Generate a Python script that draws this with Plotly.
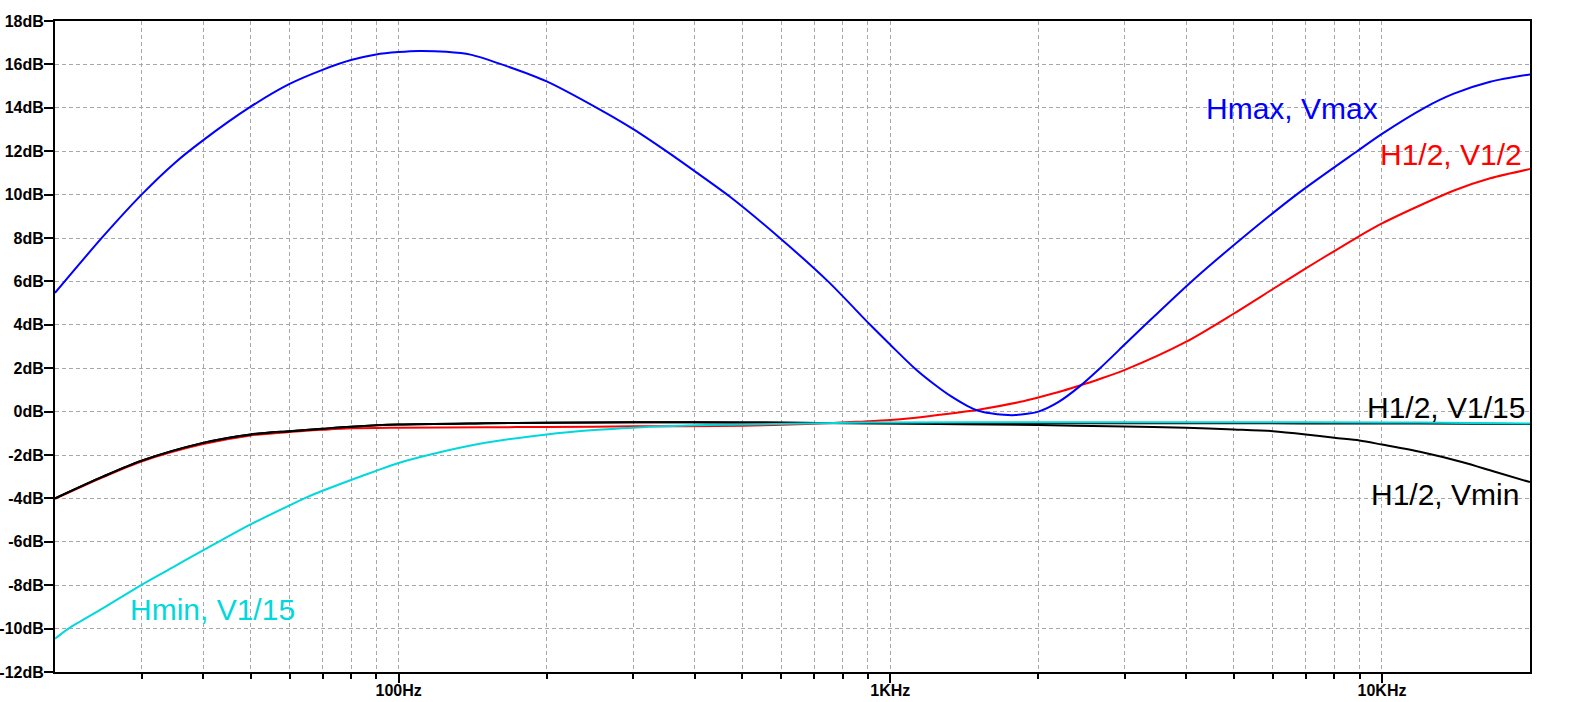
import plotly.graph_objects as go

# ---------------- data ----------------
blue_f = [20, 25, 30, 35, 40, 50, 60, 70, 80, 90, 100, 110, 125, 140, 162, 200, 253,
          300, 352, 400, 472, 596, 747, 910, 1000, 1120, 1230, 1330, 1430, 1510, 1600,
          1700, 1800, 1900, 2000, 2200, 2420, 2670, 3000, 3300, 4100, 5200, 6700, 8900,
          10000, 12200, 14000, 16600, 20000]
blue_db = [5.47, 8.05, 10.0, 11.45, 12.5, 14.05, 15.1, 15.75, 16.2, 16.46, 16.57,
           16.62, 16.58, 16.45, 16.0, 15.22, 14.0, 13.02, 11.97, 11.08, 9.9, 8.0, 6.0, 4.0,
           3.08, 2.0, 1.25, 0.7, 0.28, 0.04, -0.08, -0.15, -0.16, -0.1, 0.0, 0.45, 1.14,
           2.0, 3.1, 4.0, 6.0, 8.0, 10.0, 12.0, 12.8, 14.0, 14.65, 15.2, 15.54]

red_f = [20, 25, 30, 40, 50, 60, 70, 80, 100, 150, 200, 300, 500, 700, 850, 1000, 1100,
         1260, 1520, 1840, 2000, 2200, 2420, 2650, 3000, 4000, 5000, 6000, 7000, 8000,
         9000, 10000, 12000, 14100, 16600, 20000]
red_db = [-4.02, -3.03, -2.3, -1.5, -1.1, -0.94, -0.84, -0.77, -0.74, -0.72, -0.71, -0.68,
          -0.65, -0.56, -0.47, -0.39, -0.31, -0.15, 0.1, 0.45, 0.65, 0.9, 1.19, 1.48, 1.92,
          3.22, 4.52, 5.65, 6.6, 7.4, 8.09, 8.67, 9.52, 10.21, 10.75, 11.18]

blk15_f = [20, 25, 30, 40, 50, 60, 70, 80, 100, 150, 200, 300, 500, 1000, 2000, 5000,
           10000, 15000, 20000]
blk15_db = [-4.0, -3.0, -2.26, -1.44, -1.05, -0.9, -0.79, -0.7, -0.6, -0.54, -0.51, -0.49,
            -0.5, -0.54, -0.54, -0.54, -0.55, -0.56, -0.57]

vmin_f = [20, 25, 30, 40, 50, 60, 70, 80, 100, 150, 200, 300, 500, 1000, 2000, 3000, 4000,
          5000, 6000, 7000, 8000, 9000, 10000, 12000, 14600, 16900, 20000]
vmin_db = [-4.0, -3.0, -2.26, -1.44, -1.05, -0.9, -0.79, -0.7, -0.6, -0.54, -0.51, -0.49,
           -0.5, -0.55, -0.62, -0.69, -0.74, -0.82, -0.9, -1.05, -1.21, -1.33, -1.52,
           -1.86, -2.33, -2.76, -3.25]

cyan_f = [20, 21.3, 25, 30, 35, 40, 43, 50, 60, 64.3, 70, 80, 90, 100, 115, 150, 200, 250,
          300, 400, 500, 770, 1000, 2000, 5000, 10000, 15000, 20000]
cyan_db = [-10.47, -10.0, -9.07, -7.98, -7.13, -6.39, -6.0, -5.2, -4.32, -4.0, -3.65, -3.15,
           -2.73, -2.37, -2.0, -1.44, -1.05, -0.85, -0.74, -0.63, -0.6, -0.52, -0.5, -0.49,
           -0.49, -0.5, -0.52, -0.55]

y_ticks = list(range(-12, 19, 2))
y_labels = [f"{v}dB" for v in y_ticks]
x_major = [100, 1000, 10000]
x_major_labels = ["100Hz", "1KHz", "10KHz"]
x_minor = [30, 40, 50, 60, 70, 80, 90, 200, 300, 400, 500, 600, 700, 800, 900,
           2000, 3000, 4000, 5000, 6000, 7000, 8000, 9000]

labels = [
    ("Hmax, Vmax", 0.7793, 13.97, "left", "#0000ff"),
    ("H1/2, V1/2", 0.9959, 11.87, "right", "#ff0000"),
    ("H1/2, V1/15", 0.998, 0.185, "right", "#000000"),
    ("H1/2, Vmin", 0.9939, -3.80, "right", "#000000"),
    ("Hmin, V1/15", 0.0496, -9.12, "left", "#00d8dc"),
]

# ---------------- figure ----------------
fig = go.Figure()
series = [
    (red_f, red_db, "#ff0000"),
    (blk15_f, blk15_db, "#000000"),
    (vmin_f, vmin_db, "#000000"),
    (cyan_f, cyan_db, "#00d8dc"),
    (blue_f, blue_db, "#0000ff"),
]
for f, db, c in series:
    fig.add_trace(go.Scatter(x=f, y=db, mode="lines",
                             line=dict(color=c, width=2, shape="spline", smoothing=0.8),
                             hoverinfo="skip", showlegend=False))

grid = dict(showgrid=True, gridcolor="#a8a8a8", gridwidth=1, griddash="4px,3px")
tick_font = dict(family="Liberation Sans, Arial", size=16, color="black", weight="bold")

fig.update_xaxes(
    type="log", range=[1.30103, 4.30103],
    tickmode="array", tickvals=x_major, ticktext=x_major_labels,
    ticks="outside", ticklen=9, tickwidth=2, tickcolor="black",
    tickfont=tick_font, automargin=False, ticklabelstandoff=-6,
    showline=True, linecolor="black", linewidth=2, mirror=True,
    zeroline=False,
    minor=dict(tickmode="array", tickvals=x_minor, ticks="outside", ticklen=5,
               tickwidth=2, tickcolor="black", **grid),
    **grid,
)
fig.update_yaxes(
    range=[-12, 18],
    tickmode="array", tickvals=y_ticks, ticktext=y_labels,
    ticks="outside", ticklen=9, tickwidth=2, tickcolor="black",
    tickfont=tick_font, automargin=False, ticklabelstandoff=-3,
    showline=True, linecolor="black", linewidth=2, mirror=True,
    zeroline=False,
    **grid,
)

for text, xp, yv, anchor, col in labels:
    fig.add_annotation(text=text, xref="paper", yref="y", x=xp, y=yv,
                       xanchor=anchor, yanchor="middle", showarrow=False,
                       font=dict(family="Liberation Sans, Arial", size=30, color=col))

fig.update_layout(
    width=1596, height=702,
    margin=dict(l=55, r=66, t=21, b=30),
    plot_bgcolor="white", paper_bgcolor="white",
)

# remove the default 8px page margin so the figure fills the window exactly
fig.write_html("out.html", config={"displayModeBar": False},
               post_script="document.body.style.margin='0';document.body.style.overflow='hidden';")
